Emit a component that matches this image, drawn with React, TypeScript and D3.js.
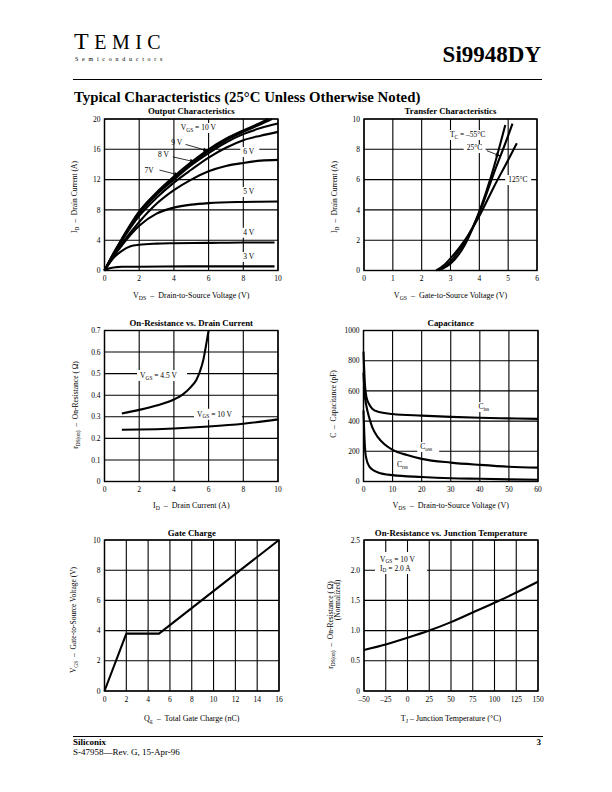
import * as d3 from 'd3';
import type { ReactNode } from 'react';

type Pt = [number, number];

// ---- Output characteristics: ID (A) vs VDS (V), per VGS ----
const outVgs10: Pt[] = [[0, 0], [0.5, 2.2], [1, 4.2], [2, 7.8], [3, 10.3], [4, 12.4], [5, 14.3], [6, 16.0], [7, 17.4], [8, 18.5], [9, 19.5], [9.45, 20]];
const outVgs9: Pt[] = [[0, 0], [0.5, 2.15], [1, 4.1], [2, 7.7], [3, 10.15], [4, 12.25], [5, 14.1], [6, 15.8], [7, 17.2], [8, 18.3], [9, 19.3], [9.65, 20]];
const outVgs8: Pt[] = [[0, 0], [0.5, 2.1], [1, 4.0], [2, 7.5], [3, 10.0], [4, 12.0], [5, 13.9], [6, 15.5], [7, 16.9], [8, 18.0], [9, 18.8], [10, 19.4]];
const outVgs7: Pt[] = [[0, 0], [0.5, 2.0], [1, 3.9], [2, 7.2], [3, 9.6], [4, 11.6], [5, 13.3], [6, 14.9], [7, 16.2], [8, 17.2], [9, 17.8], [10, 18.3]];
const outVgs6: Pt[] = [[0, 0], [0.5, 1.8], [1, 3.5], [2, 6.4], [3, 8.8], [4, 10.6], [5, 12.0], [6, 13.1], [7, 13.8], [8, 14.2], [9, 14.5], [10, 14.6]];
const outVgs5: Pt[] = [[0, 0], [0.5, 1.8], [1, 3.3], [1.5, 4.7], [2, 5.9], [3, 7.5], [4, 8.3], [5, 8.7], [6, 8.9], [8, 9.05], [10, 9.1]];
const outVgs4: Pt[] = [[0, 0], [0.5, 1.6], [1, 2.6], [1.5, 3.2], [2, 3.4], [3, 3.55], [4, 3.6], [6, 3.65], [8, 3.7], [9.8, 3.7]];
const outVgs3: Pt[] = [[0, 0], [0.3, 0.3], [0.7, 0.45], [1, 0.5], [2, 0.5], [5, 0.55], [9.8, 0.55]];

// ---- Transfer characteristics: ID (A) vs VGS (V), per TC ----
const trMinus55: Pt[] = [[2.7, 0.1], [3, 0.45], [3.5, 1.7], [4, 3.9], [4.5, 6.8], [4.9, 9.6]];
const tr25: Pt[] = [[2.6, 0], [3, 0.6], [3.5, 1.9], [4, 3.8], [4.5, 6.4], [5, 8.9], [5.15, 9.7]];
const tr125: Pt[] = [[2.5, 0], [2.8, 0.4], [3, 0.8], [3.5, 2.0], [4, 3.6], [4.5, 5.5], [5, 7.3], [5.3, 8.4]];

// ---- On-resistance vs drain current: rDS(on) (ohm) vs ID (A) ----
const ronVgs45: Pt[] = [[1, 0.315], [2, 0.332], [3, 0.352], [4, 0.38], [4.5, 0.403], [5, 0.44], [5.3, 0.472], [5.5, 0.51], [5.7, 0.565], [5.85, 0.63], [6, 0.7]];
const ronVgs10: Pt[] = [[1, 0.24], [2, 0.241], [4, 0.246], [6, 0.255], [8, 0.268], [10, 0.288]];

// ---- Capacitance: C (pF) vs VDS (V) ----
const ciss: Pt[] = [[0, 860], [0.5, 640], [1, 560], [2, 510], [3, 482], [5, 462], [10, 447], [20, 436], [30, 428], [40, 422], [50, 418], [60, 415]];
const coss: Pt[] = [[0, 720], [0.5, 560], [1, 500], [2, 420], [3, 360], [5, 292], [7, 250], [10, 210], [15, 175], [20, 150], [30, 125], [40, 110], [50, 98], [60, 92]];
const crss: Pt[] = [[0, 470], [0.3, 300], [0.6, 200], [1, 150], [2, 100], [3, 80], [5, 60], [10, 42], [20, 30], [30, 22], [40, 18], [50, 14], [60, 12]];

// ---- Gate charge: VGS (V) vs Qg (nC) ----
const gateCharge: Pt[] = [[0, 0], [2, 3.8], [5, 3.8], [16, 10]];

// ---- On-resistance vs junction temperature (normalized) ----
const ronTemp: Pt[] = [[-50, 0.68], [-25, 0.77], [0, 0.88], [25, 1.0], [50, 1.14], [75, 1.3], [100, 1.46], [125, 1.63], [150, 1.81]];

// tick values
const ticks0to10by2 = [0, 2, 4, 6, 8, 10];
const ticks0to20by4 = [0, 4, 8, 12, 16, 20];
const ticks0to6 = [0, 1, 2, 3, 4, 5, 6];
const ticksRon = [0, 0.1, 0.2, 0.3, 0.4, 0.5, 0.6, 0.7];
const ticksVds60 = [0, 10, 20, 30, 40, 50, 60];
const ticksCap = [0, 200, 400, 600, 800, 1000];
const ticksQg = [0, 2, 4, 6, 8, 10, 12, 14, 16];
const ticksTj = [-50, -25, 0, 25, 50, 75, 100, 125, 150];
const ticksRonNorm = [0, 0.5, 1.0, 1.5, 2.0, 2.5];

const FONT = '"Liberation Serif", "Times New Roman", serif';

type Scale = d3.ScaleLinear<number, number>;

type ChartProps = {
  box: { x: number; y: number; w: number; h: number };
  xDomain: [number, number];
  yDomain: [number, number];
  xTicks: number[];
  yTicks: number[];
  xFmt?: (v: number) => string;
  yFmt?: (v: number) => string;
  title: string;
  titleDy?: number;
  lines: Pt[][];
  straight?: boolean;
  xLabel: ReactNode;
  xLabelDy: number;
  yLabel: ReactNode;
  extra?: (x: Scale, y: Scale) => ReactNode;
};

function Chart(p: ChartProps) {
  const { box } = p;
  const x = d3.scaleLinear().domain(p.xDomain).range([box.x, box.x + box.w]);
  const y = d3.scaleLinear().domain(p.yDomain).range([box.y + box.h, box.y]);
  const line = d3
    .line<Pt>()
    .x((d) => x(d[0]))
    .y((d) => y(d[1]))
    .curve(p.straight ? d3.curveLinear : d3.curveMonotoneX);
  const xf = p.xFmt ?? ((v: number) => String(v));
  const yf = p.yFmt ?? ((v: number) => String(v));
  const bottom = box.y + box.h;
  return (
    <g>
      <text x={box.x + box.w / 2} y={box.y - (p.titleDy ?? 5.5)} textAnchor="middle" fontSize={8.8} fontWeight="bold">
        {p.title}
      </text>
      {/* grid */}
      {p.xTicks.map((t) => (
        <line key={'gx' + t} x1={x(t)} x2={x(t)} y1={box.y} y2={bottom} stroke="#000" strokeWidth={1.1} />
      ))}
      {p.yTicks.map((t) => (
        <line key={'gy' + t} x1={box.x} x2={box.x + box.w} y1={y(t)} y2={y(t)} stroke="#000" strokeWidth={1.1} />
      ))}
      <rect x={box.x} y={box.y} width={box.w} height={box.h} fill="none" stroke="#000" strokeWidth={1.4} />
      {/* tick labels */}
      {p.xTicks.map((t) => (
        <text key={'tx' + t} x={x(t)} y={bottom + 10.5} textAnchor="middle" fontSize={7.5}>
          {xf(t)}
        </text>
      ))}
      {p.yTicks.map((t) => (
        <text key={'ty' + t} x={box.x - 4} y={y(t) + 2.6} textAnchor="end" fontSize={7.5}>
          {yf(t)}
        </text>
      ))}
      {/* curves */}
      {p.lines.map((d, i) => (
        <path key={'l' + i} d={line(d) ?? ''} fill="none" stroke="#000" strokeWidth={2.1} strokeLinejoin="round" />
      ))}
      {p.extra && p.extra(x, y)}
      <text x={box.x + box.w / 2} y={bottom + p.xLabelDy} textAnchor="middle" fontSize={8} style={{ whiteSpace: 'pre' }}>
        {p.xLabel}
      </text>
      {p.yLabel}
    </g>
  );
}

// main text with a subscript and an optional trailing part
function sub(main: string, s: string, rest?: string) {
  return (
    <>
      <tspan>{main}</tspan>
      <tspan dy={1.6} fontSize="0.72em">
        {s}
      </tspan>
      {rest ? <tspan dy={-1.6}>{rest}</tspan> : null}
    </>
  );
}

function YLabel({ x, y, children }: { x: number; y: number; children: ReactNode }) {
  return (
    <text transform={`translate(${x},${y}) rotate(-90)`} textAnchor="middle" fontSize={7.5} style={{ whiteSpace: 'pre' }}>
      {children}
    </text>
  );
}

function BoxLabel({ x, y, w, h, children }: { x: number; y: number; w: number; h: number; children: ReactNode }) {
  return (
    <g>
      <rect x={x - 3} y={y - h + 3} width={w} height={h} fill="#fff" />
      <text x={x} y={y} fontSize={7.5} style={{ whiteSpace: 'pre' }}>
        {children}
      </text>
    </g>
  );
}

function Arrow({ x1, y1, x2, y2 }: { x1: number; y1: number; x2: number; y2: number }) {
  return <line x1={x1} y1={y1} x2={x2} y2={y2} stroke="#000" strokeWidth={0.8} markerEnd="url(#arr)" />;
}

const dash = (v: number) => (v < 0 ? '\u2013' + Math.abs(v) : String(v));
const oneDec = (v: number) => (v === 0 ? '0' : v.toFixed(1));

export default function App() {
  return (
    <svg
      width={612}
      height={792}
      viewBox="0 0 612 792"
      style={{ position: 'absolute', left: 0, top: 0, background: '#fff' }}
      fontFamily={FONT}
    >
      <defs>
        <marker id="arr" viewBox="0 0 10 10" refX="9" refY="5" markerWidth="6" markerHeight="5" orient="auto" markerUnits="userSpaceOnUse">
          <path d="M0,1 L10,5 L0,9 z" fill="#000" />
        </marker>
      </defs>
      <rect x={0} y={0} width={612} height={792} fill="#fff" />

      {/* header */}
      <text x={74} y={48.5} fontSize={24} letterSpacing={5.5}>
        T<tspan fontSize={20}>EMIC</tspan>
      </text>
      <text x={75} y={61} fontSize={6} letterSpacing={3.75}>
        Semiconductors
      </text>
      <text x={541} y={62} fontSize={23} fontWeight="bold" textAnchor="end">
        Si9948DY
      </text>
      <line x1={73} x2={542} y1={79.5} y2={79.5} stroke="#000" strokeWidth={1.2} />
      <text x={74} y={101.5} fontSize={14.8} fontWeight="bold">
        Typical Characteristics (25°C Unless Otherwise Noted)
      </text>

      {/* 1. Output characteristics */}
      <Chart
        box={{ x: 104.5, y: 119, w: 173.5, h: 151.5 }}
        xDomain={[0, 10]}
        yDomain={[0, 20]}
        xTicks={ticks0to10by2}
        yTicks={ticks0to20by4}
        title="Output Characteristics"
        lines={[outVgs10, outVgs9, outVgs8, outVgs7, outVgs6, outVgs5, outVgs4, outVgs3]}
        xLabelDy={27.5}
        xLabel={sub('V', 'DS', '  –  Drain-to-Source Voltage (V)')}
        yLabel={<YLabel x={77} y={197}>{sub('I', 'D', '  –  Drain Current (A)')}</YLabel>}
        extra={(x, y) => (
          <g fontSize={7.5}>
            <BoxLabel x={x(4.4)} y={y(18.55)} w={44} h={10}>{sub('V', 'GS', ' = 10 V')}</BoxLabel>
            <text x={x(3.85)} y={y(16.55)}>9 V</text>
            <Arrow x1={x(4.67)} y1={y(16.65)} x2={x(5.95)} y2={y(15.8)} />
            <text x={x(3.09)} y={y(14.97)}>8 V</text>
            <Arrow x1={x(3.94)} y1={y(15.0)} x2={x(5.19)} y2={y(14.35)} />
            <text x={x(2.31)} y={y(12.86)}>7V</text>
            <Arrow x1={x(3.17)} y1={y(13.26)} x2={x(4.28)} y2={y(12.6)} />
            <BoxLabel x={x(8.0)} y={y(15.37)} w={19} h={10}>6 V</BoxLabel>
            <BoxLabel x={x(8.0)} y={y(10.1)} w={19} h={10}>5 V</BoxLabel>
            <BoxLabel x={x(8.0)} y={y(4.72)} w={19} h={10}>4 V</BoxLabel>
            <BoxLabel x={x(8.0)} y={y(1.52)} w={19} h={10}>3 V</BoxLabel>
          </g>
        )}
      />

      {/* 2. Transfer characteristics */}
      <Chart
        box={{ x: 364, y: 119, w: 173, h: 151.5 }}
        xDomain={[0, 6]}
        yDomain={[0, 10]}
        xTicks={ticks0to6}
        yTicks={ticks0to10by2}
        title="Transfer Characteristics"
        lines={[trMinus55, tr25, tr125]}
        xLabelDy={27.5}
        xLabel={sub('V', 'GS', '  –  Gate-to-Source Voltage (V)')}
        yLabel={<YLabel x={337} y={197}>{sub('I', 'D', '  –  Drain Current (A)')}</YLabel>}
        extra={(x, y) => (
          <g fontSize={7.5}>
            <BoxLabel x={x(2.98)} y={y(8.81)} w={46} h={10}>{sub('T', 'C', ' = –55°C')}</BoxLabel>
            <BoxLabel x={x(3.56)} y={y(7.95)} w={22} h={9}>25°C</BoxLabel>
            <Arrow x1={x(4.26)} y1={y(7.91)} x2={x(4.72)} y2={y(7.56)} />
            <BoxLabel x={x(5.0)} y={y(5.84)} w={26} h={10}>125°C</BoxLabel>
          </g>
        )}
      />

      {/* 3. On-resistance vs drain current */}
      <Chart
        box={{ x: 104.5, y: 330.5, w: 173.5, h: 151 }}
        xDomain={[0, 10]}
        yDomain={[0, 0.7]}
        xTicks={ticks0to10by2}
        yTicks={ticksRon}
        yFmt={oneDec}
        title="On-Resistance vs. Drain Current"
        titleDy={4.5}
        lines={[ronVgs45, ronVgs10]}
        xLabelDy={26.5}
        xLabel={sub('I', 'D', '  –  Drain Current (A)')}
        yLabel={<YLabel x={78} y={405}>{sub('r', 'DS(on)', '  –  On-Resistance ( Ω)')}</YLabel>}
        extra={(x, y) => (
          <g fontSize={7.5}>
            <BoxLabel x={x(2.05)} y={y(0.48)} w={50} h={11}>{sub('V', 'GS', ' = 4.5 V')}</BoxLabel>
            <BoxLabel x={x(5.33)} y={y(0.30)} w={48} h={11}>{sub('V', 'GS', ' = 10 V')}</BoxLabel>
          </g>
        )}
      />

      {/* 4. Capacitance */}
      <Chart
        box={{ x: 363.5, y: 330.5, w: 174.5, h: 151 }}
        xDomain={[0, 60]}
        yDomain={[0, 1000]}
        xTicks={ticksVds60}
        yTicks={ticksCap}
        title="Capacitance"
        titleDy={4.5}
        lines={[ciss, coss, crss]}
        xLabelDy={26.5}
        xLabel={sub('V', 'DS', '  –  Drain-to-Source Voltage (V)')}
        yLabel={<YLabel x={336} y={404}>{'C  –  Capacitance (pF)'}</YLabel>}
        extra={(x, y) => (
          <g fontSize={7.5}>
            <BoxLabel x={x(39.5)} y={y(480)} w={18} h={10}>{sub('C', 'iss')}</BoxLabel>
            <BoxLabel x={x(19.5)} y={y(215)} w={22} h={10}>{sub('C', 'oss')}</BoxLabel>
            <BoxLabel x={x(11.5)} y={y(96)} w={18} h={10}>{sub('C', 'rss')}</BoxLabel>
          </g>
        )}
      />

      {/* 5. Gate charge */}
      <Chart
        box={{ x: 104.5, y: 540, w: 174.5, h: 151 }}
        xDomain={[0, 16]}
        yDomain={[0, 10]}
        xTicks={ticksQg}
        yTicks={ticks0to10by2}
        title="Gate Charge"
        titleDy={4}
        lines={[gateCharge]}
        straight
        xLabelDy={30}
        xLabel={sub('Q', 'g', '  –  Total Gate Charge (nC)')}
        yLabel={<YLabel x={76} y={620}>{sub('V', 'GS', '  –  Gate-to-Source Voltage (V)')}</YLabel>}
      />

      {/* 6. On-resistance vs junction temperature */}
      <Chart
        box={{ x: 364, y: 540, w: 174, h: 151 }}
        xDomain={[-50, 150]}
        yDomain={[0, 2.5]}
        xTicks={ticksTj}
        yTicks={ticksRonNorm}
        xFmt={dash}
        yFmt={oneDec}
        title="On-Resistance vs. Junction Temperature"
        titleDy={4}
        lines={[ronTemp]}
        xLabelDy={30}
        xLabel={sub('T', 'J', ' – Junction Temperature (°C)')}
        yLabel={
          <>
            <YLabel x={333} y={625}>{sub('r', 'DS(on)', '  –  On-Resistance ( Ω)')}</YLabel>
            <YLabel x={340} y={600}>(Normalized)</YLabel>
          </>
        }
        extra={(x, y) => (
          <g fontSize={7.5}>
            <rect x={375} y={552} width={52} height={22} fill="#fff" />
            <text x={x(-31.6)} y={y(2.14)}>{sub('V', 'GS', ' = 10 V')}</text>
            <text x={x(-31.6)} y={y(1.99)}>{sub('I', 'D', ' = 2.0 A')}</text>
          </g>
        )}
      />

      {/* footer */}
      <line x1={73} x2={543} y1={736.5} y2={736.5} stroke="#000" strokeWidth={1.2} />
      <text x={73} y={744.5} fontSize={9} fontWeight="bold">
        Siliconix
      </text>
      <text x={541} y={744.5} fontSize={9} fontWeight="bold" textAnchor="end">
        3
      </text>
      <text x={73} y={754.5} fontSize={9}>
        S-47958—Rev. G, 15-Apr-96
      </text>
    </svg>
  );
}
